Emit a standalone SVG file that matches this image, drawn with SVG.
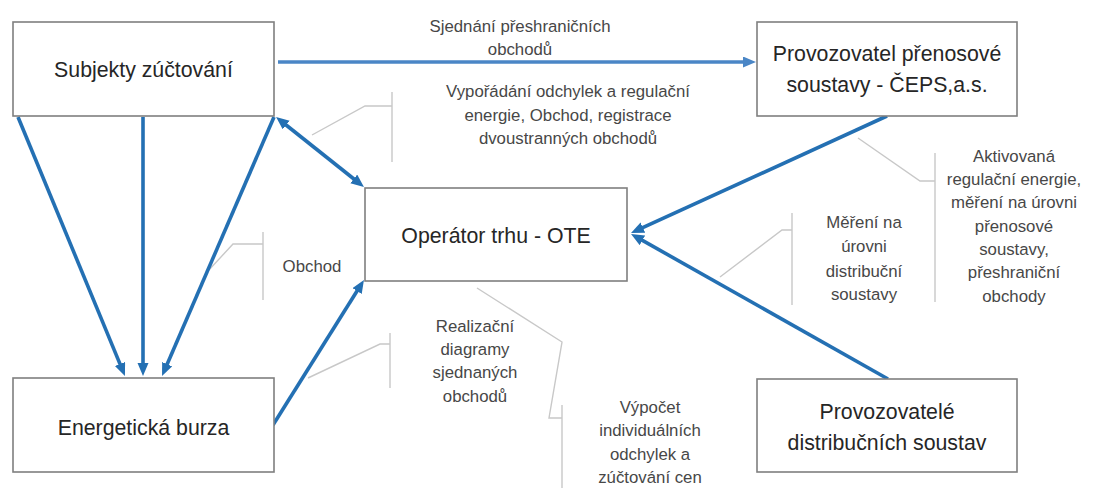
<svg xmlns="http://www.w3.org/2000/svg" width="1094" height="488" viewBox="0 0 1094 488">
<style>
.box{fill:#fff;stroke:#7f7f7f;stroke-width:1.6}
.bt{font-family:"Liberation Sans",Arial,sans-serif;font-size:21.3px;fill:#262626;text-anchor:middle}
.lt{font-family:"Liberation Sans",Arial,sans-serif;font-size:16.8px;fill:#474747;text-anchor:middle}
.ar{fill:none;stroke:#2470b3;stroke-width:3.6;marker-end:url(#ah)}
.ar2{fill:none;stroke:#4a86c6;stroke-width:3.6;marker-end:url(#ah2)}
.ld{fill:none;stroke:#c8c8c8;stroke-width:1.4}
</style>
<defs>
<marker id="ah" markerUnits="userSpaceOnUse" markerWidth="14" markerHeight="12" refX="5" refY="5.5" orient="auto-start-reverse"><path d="M0,0 L13,5.5 L0,11 z" fill="#2470b3"/></marker>
<marker id="ah2" markerUnits="userSpaceOnUse" markerWidth="14" markerHeight="12" refX="5" refY="5.5" orient="auto"><path d="M0,0 L13,5.5 L0,11 z" fill="#4a86c6"/></marker>
</defs>
<rect width="1094" height="488" fill="#fff"/>
<g id="leaders">
<polyline class="ld" points="312,135 365,106 392,106"/><line class="ld" x1="392" y1="92" x2="392" y2="162"/>
<polyline class="ld" points="208,271 233,244 263,244"/><line class="ld" x1="263" y1="232" x2="263" y2="300"/>
<polyline class="ld" points="308,378 380,344 390,344"/><line class="ld" x1="390" y1="333" x2="390" y2="388"/>
<polyline class="ld" points="477,288 562,342 549,418 562,418"/><line class="ld" x1="562" y1="405" x2="562" y2="488"/>
<polyline class="ld" points="720,277 782,230 792,230"/><line class="ld" x1="792" y1="213" x2="792" y2="305"/>
<polyline class="ld" points="858,138 920,181 935,181"/><line class="ld" x1="935" y1="153" x2="935" y2="302"/>
</g>
<g id="connectors">
<path class="ar2" d="M278,62 L748,62"/>
<path class="ar" style="marker-start:url(#ah)" d="M282.3,122 L357.7,182"/>
<path class="ar" d="M887,116 L638.3,229.7"/>
<path class="ar" d="M888,379 L638,237.9"/>
<path class="ar" d="M273,425 L359.7,286.8"/>
<path class="ar" d="M18,117 L121.9,368.6"/>
<path class="ar" d="M143,117 L143,368"/>
<path class="ar" d="M274,117 L165.2,368.7"/>
</g>
<g id="n-subjekty"><rect class="box" x="13" y="22" width="261" height="94"/><text class="bt" x="143.5" y="77">Subjekty zúčtování</text></g>
<g id="n-ceps"><rect class="box" x="757" y="22" width="260" height="94"/><text class="bt" x="887" y="61">Provozovatel přenosové</text><text class="bt" x="887" y="92">soustavy - ČEPS,a.s.</text></g>
<g id="n-ote"><rect class="box" x="365" y="188" width="262" height="93"/><text class="bt" x="496" y="243">Operátor trhu - OTE</text></g>
<g id="n-burza"><rect class="box" x="13" y="378" width="261" height="94"/><text class="bt" x="143.5" y="435">Energetická burza</text></g>
<g id="n-pds"><rect class="box" x="757" y="379" width="260" height="93"/><text class="bt" x="887" y="419">Provozovatelé</text><text class="bt" x="887" y="450">distribučních soustav</text></g>
<g id="labels">
<text class="lt" x="520" y="32">Sjednání přeshraničních</text><text class="lt" x="520" y="55">obchodů</text>
<text class="lt" x="568" y="97">Vypořádání odchylek a regulační</text><text class="lt" x="568" y="121">energie, Obchod, registrace</text><text class="lt" x="568" y="144">dvoustranných obchodů</text>
<text class="lt" x="312" y="272">Obchod</text>
<text class="lt" x="475" y="332">Realizační</text><text class="lt" x="475" y="355">diagramy</text><text class="lt" x="475" y="378">sjednaných</text><text class="lt" x="475" y="402">obchodů</text>
<text class="lt" x="650" y="413">Výpočet</text><text class="lt" x="650" y="436">individuálních</text><text class="lt" x="650" y="460">odchylek a</text><text class="lt" x="650" y="483">zúčtování cen</text>
<text class="lt" x="864" y="228">Měření na</text><text class="lt" x="864" y="252">úrovni</text><text class="lt" x="864" y="277">distribuční</text><text class="lt" x="864" y="300">soustavy</text>
<text class="lt" x="1014" y="162">Aktivovaná</text><text class="lt" x="1014" y="185">regulační energie,</text><text class="lt" x="1014" y="208">měření na úrovni</text><text class="lt" x="1014" y="232">přenosové</text><text class="lt" x="1014" y="255">soustavy,</text><text class="lt" x="1014" y="278">přeshraniční</text><text class="lt" x="1014" y="302">obchody</text>
</g>
</svg>
